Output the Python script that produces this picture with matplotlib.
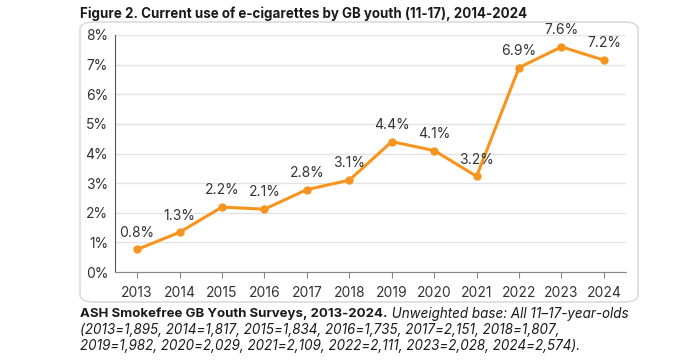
import matplotlib
matplotlib.use('Agg')
import matplotlib.pyplot as plt
from matplotlib.patches import FancyBboxPatch
from matplotlib.ticker import FuncFormatter

years = [2013, 2014, 2015, 2016, 2017, 2018, 2019, 2020, 2021, 2022, 2023, 2024]
# current use (%) - point heights
current_use = [0.76, 1.34, 2.19, 2.12, 2.78, 3.1, 4.4, 4.1, 3.23, 6.9, 7.6, 7.15]
point_labels = ['0.8%', '1.3%', '2.2%', '2.1%', '2.8%', '3.1%', '4.4%', '4.1%', '3.2%', '6.9%', '7.6%', '7.2%']

title = 'Figure 2. Current use of e-cigarettes by GB youth (11-17), 2014-2024'
source_bold = 'ASH Smokefree GB Youth Surveys, 2013-2024.'
source_italic = ' Unweighted base: All 11\u201317-year-olds'
source_lines = ['(2013=1,895, 2014=1,817, 2015=1,834, 2016=1,735, 2017=2,151, 2018=1,807,',
                '2019=1,982, 2020=2,029, 2021=2,109, 2022=2,111, 2023=2,028, 2024=2,574).']

plt.rcParams['font.family'] = ['Inter', 'DejaVu Sans']
orange = '#F7941D'
txt = '#1a1a1a'
W, H = 700, 363

fig = plt.figure(figsize=(7, 3.63), dpi=100)
fig.patch.set_facecolor('white')
renderer = fig.canvas.get_renderer()


def fitted_text(x, y, s, width, size=10, **kw):
    # put text at pixel position and scale the font so it spans `width` px
    t = fig.text(x / W, 1 - y / H, s, fontsize=size, va='center', ha='left', color=txt, **kw)
    w = t.get_window_extent(renderer).width
    t.set_fontsize(size * width / w)
    return t


# rounded frame round the chart
box = FancyBboxPatch((80 / W, 1 - 302 / H), 558 / W, 280 / H,
                     boxstyle='round,pad=0,rounding_size=0.02',
                     transform=fig.transFigure, facecolor='white',
                     edgecolor='#dcdcdc', linewidth=1.2, zorder=-5)
fig.patches.append(box)

ax = fig.add_axes([115 / W, 1 - 272 / H, 511 / W, 237 / H])
ax.set_facecolor('none')
ax.plot(years, current_use, color=orange, linewidth=2.2, marker='o',
        markersize=5, zorder=3, clip_on=False)
for x, y, s in zip(years, current_use, point_labels):
    ax.annotate(s, (x, y), xytext=(0, 7), textcoords='offset points',
                ha='center', va='bottom', fontsize=10, color='#333333')

ax.set_xlim(2012.48, 2024.52)
ax.set_ylim(0, 8)
ax.set_xticks(years)
ax.set_yticks(range(0, 9))
ax.yaxis.set_major_formatter(FuncFormatter(lambda v, p: '%d%%' % v))
ax.grid(axis='y', color='#e3e3e3', linewidth=1)
ax.set_axisbelow(True)
for s in ['top', 'right']:
    ax.spines[s].set_visible(False)
ax.spines['left'].set_color('#555555')
ax.spines['bottom'].set_color('#888888')
ax.tick_params(axis='y', length=0, pad=5, labelsize=10, labelcolor='#333333')
ax.tick_params(axis='x', length=4, color='#888888', pad=6, labelsize=10, labelcolor='#333333')

fitted_text(80, 14, title, 447, fontweight='bold')

# source note: bold lead-in followed by italic text on the same line
b = fitted_text(80, 314, source_bold, 307, fontweight='bold')
l2 = fitted_text(80, 330, source_lines[0], 484, style='italic')
l3 = fitted_text(80, 346, source_lines[1], 498, style='italic')
fs = (l2.get_fontsize() + l3.get_fontsize()) / 2
l2.set_fontsize(fs)
l3.set_fontsize(fs)
x1 = b.get_window_extent(renderer).x1
fig.text(x1 / W, 1 - 314 / H, source_italic, fontsize=fs, style='italic',
         color=txt, va='center', ha='left')

fig.savefig('out.png', dpi=100)
